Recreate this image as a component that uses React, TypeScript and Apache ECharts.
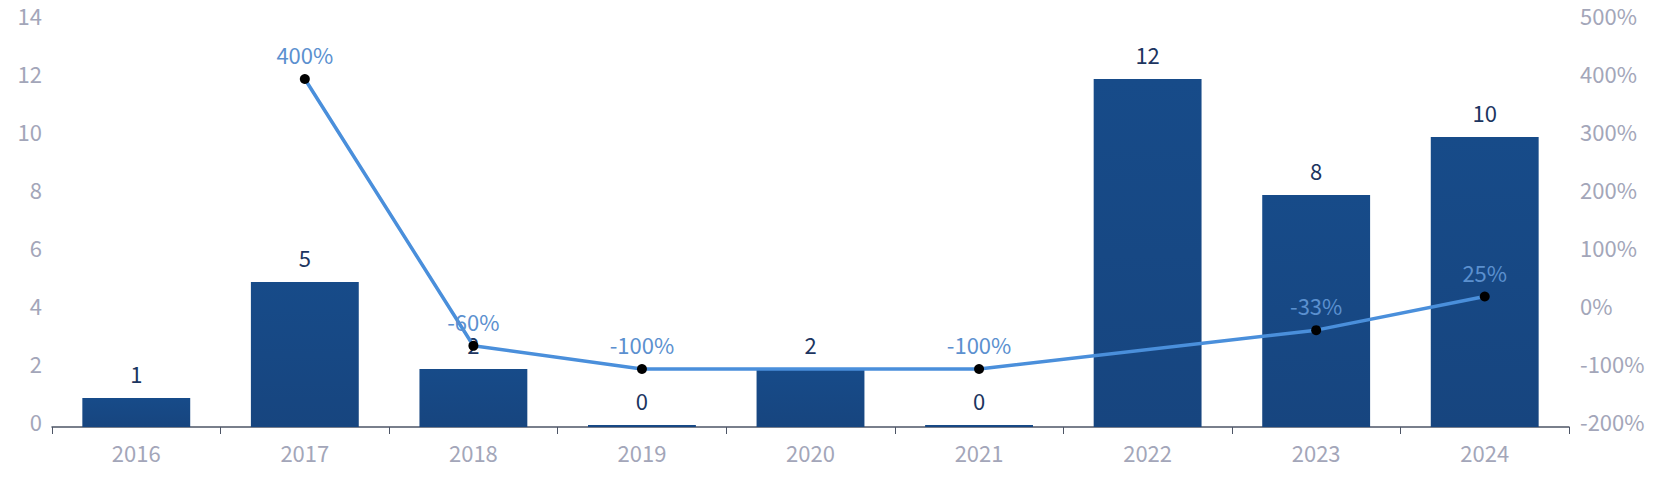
import React, { useEffect, useRef } from "react";
import * as echarts from "echarts";

const years = ["2016", "2017", "2018", "2019", "2020", "2021", "2022", "2023", "2024"];
const counts = [1, 5, 2, 0, 2, 0, 12, 8, 10];
const growth: (number | null)[] = [null, 400, -60, -100, null, -100, null, -33, 25];
const leftTicks = { min: 0, max: 14, interval: 2 };
const rightTicks = { min: -200, max: 500, interval: 100 };

const FONT = "'Noto Sans CJK SC', 'Noto Sans', sans-serif";
const AXIS_LABEL = "#a3a6b9";

export default function App() {
  const ref = useRef<HTMLDivElement>(null);
  useEffect(() => {
    document.body.style.margin = "0";
    const chart = echarts.init(ref.current!, null, { renderer: "svg" });
    chart.setOption({
      animation: false,
      textStyle: { fontFamily: FONT },
      grid: { left: 52, right: 97, top: 21, bottom: 71 },
      xAxis: {
        type: "category",
        data: years,
        axisLine: { lineStyle: { color: "#4d5566", width: 1.5 } },
        axisTick: { show: true, length: 7, lineStyle: { color: "#4d5566" } },
        axisLabel: { color: AXIS_LABEL, fontSize: 22, fontFamily: FONT, margin: 14 },
      },
      yAxis: [
        {
          type: "value",
          ...leftTicks,
          splitLine: { show: false },
          axisLine: { show: false },
          axisTick: { show: false },
          axisLabel: {
            color: AXIS_LABEL,
            fontSize: 22,
            fontFamily: FONT,
            margin: 10,
            verticalAlign: "bottom",
            lineHeight: 12,
          },
        },
        {
          type: "value",
          ...rightTicks,
          splitLine: { show: false },
          axisLine: { show: false },
          axisTick: { show: false },
          axisLabel: {
            color: AXIS_LABEL,
            fontSize: 22,
            fontFamily: FONT,
            margin: 11,
            verticalAlign: "bottom",
            lineHeight: 12,
            formatter: "{value}%",
          },
        },
      ],
      series: [
        {
          type: "bar",
          data: counts,
          barWidth: "64%",
          barMinHeight: 2,
          itemStyle: {
            color: new echarts.graphic.LinearGradient(0, 0, 0, 1, [
              { offset: 0, color: "#174b89" },
              { offset: 1, color: "#17457f" },
            ]),
          },
          label: {
            show: true,
            position: "top",
            distance: 14,
            color: "#1c3560",
            fontSize: 22,
            fontFamily: FONT,
          },
        },
        {
          type: "line",
          yAxisIndex: 1,
          data: growth,
          connectNulls: true,
          symbol: "circle",
          symbolSize: 10,
          lineStyle: { color: "#4a8fdb", width: 3.5 },
          itemStyle: { color: "#000000" },
          label: {
            show: true,
            position: "top",
            distance: 9,
            color: "#5b90cf",
            fontSize: 22,
            fontFamily: FONT,
            formatter: "{c}%",
          },
          z: 5,
        },
      ],
    });
    return () => chart.dispose();
  }, []);
  return <div ref={ref} style={{ width: 1666, height: 498 }} />;
}
